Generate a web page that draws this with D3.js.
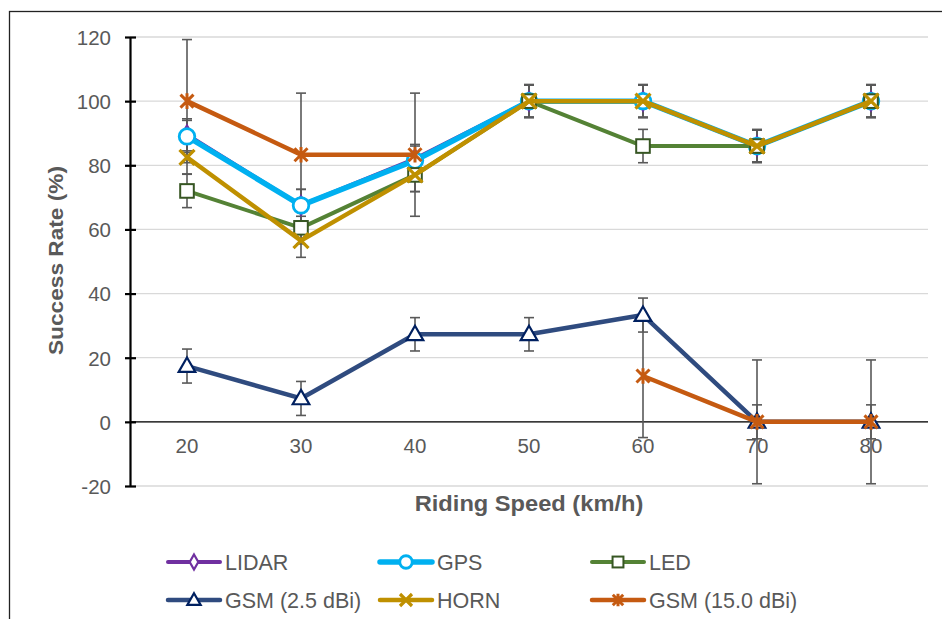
<!DOCTYPE html>
<html>
<head>
<meta charset="utf-8">
<script src="https://cdn.jsdelivr.net/npm/d3@7"></script>
<style>
  body { margin: 0; background: #fff; }
  svg { display: block; font-family: "Liberation Sans", Arial, sans-serif; }
</style>
</head>
<body>
<div id="chart"></div>
<script>
// speeds on the x axis
const speeds = ["20", "30", "40", "50", "60", "70", "80"];
const yTicks = [-20, 0, 20, 40, 60, 80, 100, 120];

// success rate per series (%)
const lidar = [89.5, 67.5, 82, 100, 100, 86, 100];
const gps = [89, 67.5, 81.5, 100, 100, 86, 100];
const led = [72, 60.5, 77, 100, 86, 86, 100];
const gsm25 = [17.4, 7.3, 27.3, 27.3, 33.3, 0, 0];
const horn = [82.5, 56.5, 77, 100, 100, 86, 100];
const gsm15 = [100, 83.3, 83.3, null, 14.3, 0, 0];

// error bar half-widths
const lidarErr = [5, 5, 4.5, 5, 5, 5, 5];
const gpsErr = [5, 5, 4.5, 5, 5, 5, 5];
const ledErr = [5.2, 5, 5.2, 5, 5.2, 5, 5];
const gsm25Err = [5.3, 5.3, 5.2, 5.2, 5.3, 5.3, 5.3];
const hornErr = [5.2, 5.2, 5.2, 5.2, 5.2, 5.2, 5.2];
const gsm15Err = [19.2, 19.2, 19.2, null, 19.2, 19.3, 19.3];

const series = [
  { name: "LIDAR", values: lidar, err: lidarErr, color: "#7030A0", mark: "diamond", stroke: "#7030A0", width: 4 },
  { name: "GPS", values: gps, err: gpsErr, color: "#00B0F0", mark: "circle", stroke: "#00B0F0", width: 5.5 },
  { name: "LED", values: led, err: ledErr, color: "#548235", mark: "square", stroke: "#375623", width: 4 },
  { name: "GSM (2.5 dBi)", values: gsm25, err: gsm25Err, color: "#2F4B7F", mark: "triangle", stroke: "#002060", width: 4.5 },
  { name: "HORN", values: horn, err: hornErr, color: "#BF9000", mark: "x", stroke: "#BF9000", width: 4.5 },
  { name: "GSM (15.0 dBi)", values: gsm15, err: gsm15Err, color: "#C55A11", mark: "star", stroke: "#C55A11", width: 4.5 }
];

const width = 942, height = 619;
const margin = { top: 37, right: 14, bottom: 133, left: 130 };

const svg = d3.select("#chart").append("svg")
  .attr("width", width)
  .attr("height", height);

// outer frame
svg.append("rect")
  .attr("x", 9.5).attr("y", 11.5)
  .attr("width", 1000).attr("height", 1000)
  .attr("fill", "none")
  .attr("stroke", "#222")
  .attr("stroke-width", 1.3);

const x = d3.scaleBand()
  .domain(speeds)
  .range([margin.left, width - margin.right])
  .padding(0);

const y = d3.scaleLinear()
  .domain([-20, 120])
  .range([height - margin.bottom, margin.top]);

const cx = d => x(d) + x.bandwidth() / 2;

// grid
svg.append("g")
  .selectAll("line")
  .data(yTicks)
  .join("line")
  .attr("x1", margin.left)
  .attr("x2", width - margin.right)
  .attr("y1", d => y(d))
  .attr("y2", d => y(d))
  .attr("stroke", "#D9D9D9")
  .attr("stroke-width", 1.3);

// x axis along zero
svg.append("line")
  .attr("x1", margin.left).attr("x2", width - margin.right)
  .attr("y1", y(0)).attr("y2", y(0))
  .attr("stroke", "#000").attr("stroke-width", 1.3);

svg.append("g")
  .selectAll("text")
  .data(speeds)
  .join("text")
  .attr("x", d => cx(d))
  .attr("y", y(0) + 31)
  .attr("text-anchor", "middle")
  .attr("fill", "#595959")
  .style("font-size", "20.5px")
  .text(d => d);

// y axis
let yAxis = g => g
  .attr("transform", `translate(${margin.left}, 0)`)
  .call(d3.axisLeft(y).tickValues(yTicks).tickFormat(d => String(d))
    .tickSize(6).tickSizeOuter(0).tickPadding(13))
  .call(g => g.select(".domain").attr("stroke", "#000").attr("stroke-width", 2.2))
  .call(g => g.selectAll(".tick line").attr("x2", 6).attr("x1", -5).attr("stroke", "#000").attr("stroke-width", 2.2))
  .call(g => g.selectAll(".tick text").attr("fill", "#595959").attr("dy", "0.36em").style("font-size", "20.5px")
    .style("font-family", "'Liberation Sans', Arial, sans-serif"));

svg.append("g").call(yAxis);

// titles
svg.append("text")
  .attr("transform", `translate(63, ${(y(120) + y(-20)) / 2 - 1}) rotate(-90) scale(1.08,1)`)
  .attr("text-anchor", "middle")
  .attr("fill", "#595959")
  .style("font-size", "21px")
  .style("font-weight", "bold")
  .text("Success Rate (%)");

svg.append("text")
  .attr("transform", `translate(${(margin.left + width - margin.right) / 2}, 511) scale(1.1,1)`)
  .attr("text-anchor", "middle")
  .attr("fill", "#595959")
  .style("font-size", "21.5px")
  .style("font-weight", "bold")
  .text("Riding Speed (km/h)");

// marker shapes
function marker(sel, s, scale) {
  const k = scale || 1;
  if (s.mark === "diamond") {
    sel.append("path").attr("d", d3.symbol(d3.symbolDiamond, 100 * k * k)())
      .attr("fill", "#fff").attr("stroke", s.stroke).attr("stroke-width", 2.2);
  } else if (s.mark === "circle") {
    sel.append("circle").attr("r", 7.8 * k)
      .attr("fill", "#fff").attr("stroke", s.stroke).attr("stroke-width", 2.8);
  } else if (s.mark === "square") {
    const h = 6.8 * k;
    sel.append("rect").attr("x", -h).attr("y", -h).attr("width", 2 * h).attr("height", 2 * h)
      .attr("fill", "#fff").attr("stroke", s.stroke).attr("stroke-width", 2);
  } else if (s.mark === "triangle") {
    sel.append("path").attr("d", d3.symbol(d3.symbolTriangle, 120 * k * k)())
      .attr("transform", "translate(0,1)")
      .attr("fill", "#fff").attr("stroke", s.stroke).attr("stroke-width", 2.2);
  } else if (s.mark === "x") {
    const h = 7.5 * k;
    sel.append("path").attr("d", `M${-h},${-h}L${h},${h}M${-h},${h}L${h},${-h}`)
      .attr("stroke", s.stroke).attr("stroke-width", 3.2).attr("fill", "none");
  } else if (s.mark === "star") {
    const h = 6.5 * k;
    sel.append("path").attr("d", `M${-h},${-h}L${h},${h}M${-h},${h}L${h},${-h}M0,${-h * 1.2}L0,${h * 1.2}`)
      .attr("stroke", s.stroke).attr("stroke-width", 3).attr("fill", "none");
  }
}

// error bars
const errG = svg.append("g").attr("stroke", "#595959").attr("stroke-width", 1.6);
series.forEach(s => {
  speeds.forEach((sp, i) => {
    const v = s.values[i], e = s.err[i];
    if (v == null || e == null) return;
    const px = cx(sp);
    errG.append("line").attr("x1", px).attr("x2", px).attr("y1", y(v + e)).attr("y2", y(v - e));
    [v + e, v - e].forEach(t => {
      errG.append("line").attr("x1", px - 5).attr("x2", px + 5).attr("y1", y(t)).attr("y2", y(t));
    });
  });
});

// lines and markers
const line = d3.line()
  .defined(d => d.v != null)
  .x(d => cx(d.sp))
  .y(d => y(d.v));

series.forEach(s => {
  const pts = speeds.map((sp, i) => ({ sp: sp, v: s.values[i] }));
  svg.append("path")
    .datum(pts)
    .attr("d", line)
    .attr("fill", "none")
    .attr("stroke", s.color)
    .attr("stroke-width", s.width)
    .attr("stroke-linejoin", "round");
  pts.filter(d => d.v != null).forEach(d => {
    const g = svg.append("g").attr("transform", `translate(${cx(d.sp)},${y(d.v)})`);
    marker(g, s);
  });
});

// legend
const legCols = [168, 380, 592];
const legRows = [562, 600];
series.forEach((s, i) => {
  const lx = legCols[i % 3], ly = legRows[Math.floor(i / 3)];
  const g = svg.append("g").attr("transform", `translate(${lx},${ly})`);
  g.append("line").attr("x1", 0).attr("x2", 52).attr("y1", 0).attr("y2", 0)
    .attr("stroke", s.color).attr("stroke-width", s.width).attr("stroke-linecap", "round");
  const m = g.append("g").attr("transform", "translate(26,0)");
  marker(m, s, 0.8);
  g.append("text")
    .attr("x", 57).attr("y", 7.5)
    .attr("fill", "#595959")
    .style("font-size", "21.5px")
    .text(s.name);
});
</script>
</body>
</html>
